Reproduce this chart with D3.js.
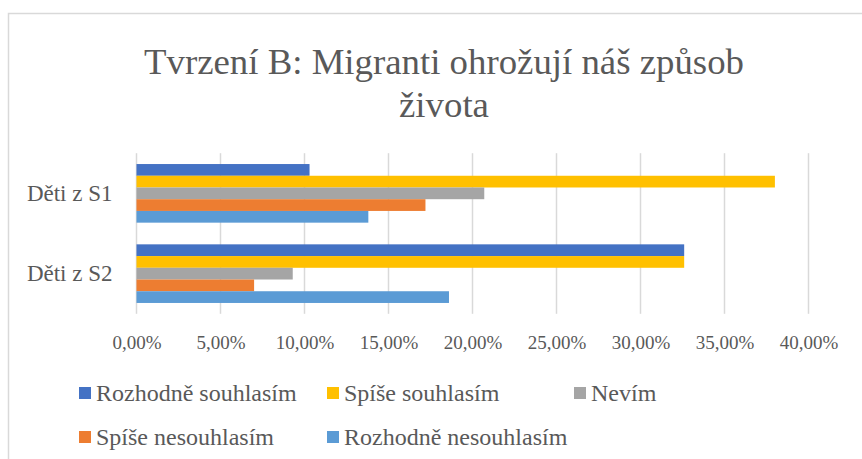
<!DOCTYPE html>
<html>
<head>
<meta charset="utf-8">
<script src="https://cdn.jsdelivr.net/npm/d3@7"></script>
<style>
html,body{margin:0;padding:0;background:#fff;}
svg{display:block;}
</style>
</head>
<body>
<svg id="chart" width="862" height="459"></svg>
<script>
const titleLines = ["Tvrzení B: Migranti ohrožují náš způsob", "života"];
const categories = ["Děti z S1", "Děti z S2"];
const seriesNames = ["Rozhodně souhlasím", "Spíše souhlasím", "Nevím", "Spíše nesouhlasím", "Rozhodně nesouhlasím"];
const seriesColors = ["#4472C4", "#FFC000", "#A5A5A5", "#ED7D31", "#5B9BD5"];
const valuesS1 = [0.103, 0.380, 0.207, 0.172, 0.138];
const valuesS2 = [0.326, 0.326, 0.093, 0.070, 0.186];
const tickValues = [0, 0.05, 0.10, 0.15, 0.20, 0.25, 0.30, 0.35, 0.40];

const seriesValues = [valuesS1, valuesS2];
const data = [];
categories.forEach((c, ci) => {
  seriesNames.forEach((s, si) => data.push({cat: c, series: s, value: seriesValues[ci][si], color: seriesColors[si]}));
});

const svg = d3.select("#chart");
const font = "'Liberation Serif', 'Times New Roman', serif";
const textColor = "#595959";

// chart frame
svg.append("rect").attr("x", 8.5).attr("y", 13.5).attr("width", 900).attr("height", 500)
  .attr("fill", "#fff").attr("stroke", "#d9d9d9").attr("stroke-width", 1.5);

// title
svg.append("g").selectAll("text").data(titleLines).join("text")
  .attr("x", 444).attr("y", (d, i) => 73.5 + i * 43.3)
  .attr("text-anchor", "middle")
  .attr("font-family", font).attr("font-size", 36.8).attr("fill", textColor)
  .text(d => d);

const x = d3.scaleLinear().domain([0, 0.40]).range([136.5, 808.5]);
const y = d3.scaleBand().domain(categories).range([153.2, 313.8]).paddingInner(0.27).paddingOuter(0.135);
const ys = d3.scaleBand().domain(seriesNames).range([0, y.bandwidth()]);

// gridlines
svg.append("g").selectAll("line").data(tickValues).join("line")
  .attr("x1", d => x(d)).attr("x2", d => x(d))
  .attr("y1", 153.2).attr("y2", 313.8)
  .attr("stroke", "#d9d9d9").attr("stroke-width", 1.5);

// bars
svg.append("g").selectAll("rect").data(data).join("rect")
  .attr("x", x(0))
  .attr("y", d => y(d.cat) + ys(d.series))
  .attr("width", d => x(d.value) - x(0))
  .attr("height", ys.bandwidth())
  .attr("fill", d => d.color);

// x axis (labels only)
const fmt = d => d3.format(".2f")(d * 100).replace(".", ",") + "%";
const xAxis = svg.append("g").attr("transform", "translate(0,313.8)")
  .call(d3.axisBottom(x).tickValues(tickValues).tickFormat(fmt).tickSize(0).tickPadding(0));
xAxis.select(".domain").remove();
xAxis.selectAll("text").attr("font-family", font).attr("font-size", 19).attr("fill", textColor)
  .attr("dy", "1.85em");

// y axis (labels only)
const yAxis = svg.append("g").attr("transform", "translate(136.5,0)")
  .call(d3.axisLeft(y).tickSize(0).tickPadding(24));
yAxis.select(".domain").remove();
yAxis.selectAll("text").attr("font-family", font).attr("font-size", 23).attr("fill", textColor);

// legend
const legendPos = [[79, 401], [327, 401], [574, 401], [79, 445], [327, 445]];
const lg = svg.append("g").selectAll("g").data(seriesNames).join("g")
  .attr("transform", (d, i) => `translate(${legendPos[i][0]},${legendPos[i][1]})`);
lg.append("rect").attr("x", 0).attr("y", -14).attr("width", 12).attr("height", 12)
  .attr("fill", (d, i) => seriesColors[i]);
lg.append("text").attr("x", 17).attr("y", 0)
  .attr("font-family", font).attr("font-size", 24).attr("fill", textColor)
  .text(d => d);
</script>
</body>
</html>
